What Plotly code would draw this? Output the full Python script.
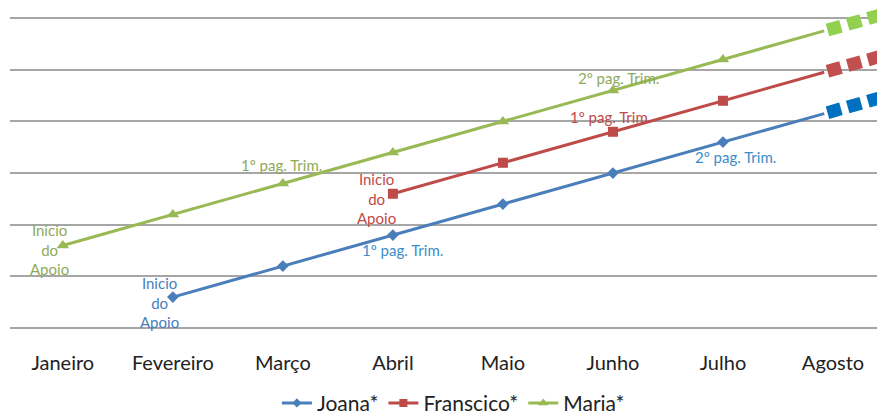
import plotly.graph_objects as go

months = ["Janeiro", "Fevereiro", "Março", "Abril", "Maio", "Junho", "Julho", "Agosto"]
joana = [None, 0.6, 1.2, 1.8, 2.4, 3.0, 3.6, 4.2]
francisco = [None, None, None, 2.6, 3.2, 3.8, 4.4, 5.0]
maria = [1.6, 2.2, 2.8, 3.4, 4.0, 4.6, 5.2, 5.8]
# projected continuation after Agosto (dashed)
proj_x = [7, 7.6]
joana_proj = [4.2, 4.56]
francisco_proj = [5.0, 5.36]
maria_proj = [5.8, 6.16]

c_j, c_f, c_m = "#4A7EBB", "#BE4B48", "#98B954"
cp_j, cp_f, cp_m = "#0070C0", "#C0504D", "#92D050"

xs = list(range(len(months)))
fig = go.Figure()
for name, ys, col, sym, sz in [("Joana*", joana, c_j, "diamond", 9),
                               ("Franscico*", francisco, c_f, "square", 10),
                               ("Maria*", maria, c_m, "triangle-up", 11)]:
    px = [x for x, y in zip(xs, ys) if y is not None and x < 7]
    py = [y for x, y in zip(xs, ys) if y is not None and x < 7]
    fig.add_trace(go.Scatter(x=px + [6.92], y=py + [py[-1] + (ys[7] - py[-1]) * 0.92],
                             mode="lines", line=dict(color=col, width=3), showlegend=False,
                             hoverinfo="skip"))
    fig.add_trace(go.Scatter(x=px, y=py, mode="markers", name=name,
                             marker=dict(symbol=sym, size=sz, color=col),
                             line=dict(color=col, width=3), showlegend=False))
    fig.add_trace(go.Scatter(x=[None], y=[None], mode="lines+markers", name=name,
                             marker=dict(symbol=sym, size=sz - 2, color=col),
                             line=dict(color=col, width=3)))

for ys, col in [(joana_proj, cp_j), (francisco_proj, cp_f), (maria_proj, cp_m)]:
    fig.add_trace(go.Scatter(x=[proj_x[0] - 0.05, proj_x[1]],
                             y=[ys[0] - 0.05 * 0.6, ys[1]], mode="lines",
                             line=dict(color=col, width=13, dash="14px,7px"),
                             showlegend=False, hoverinfo="skip"))

ann = [
    ("Inicio<br>do<br>Apoio", -0.12, 1.53, "#8FAA5A"),
    ("Inicio<br>do<br>Apoio", 0.88, 0.5, "#4A7EBB"),
    ("Inicio<br>do<br>Apoio", 2.85, 2.5, "#BE4B48"),
    ("1º pag. Trim.", 3.09, 1.51, "#3C8DC8"),
    ("1º pag. Trim.", 1.99, 3.15, "#8FAA5A"),
    ("1º pag. Trim.", 4.98, 4.08, "#BE4B48"),
    ("2º pag. Trim.", 5.05, 4.84, "#8FAA5A"),
    ("2º pag. Trim.", 6.11, 3.31, "#3C8DC8"),
]
for t, x, y, col in ann:
    fig.add_annotation(x=x, y=y, text=t, showarrow=False,
                       font=dict(family="Lato", size=15, color=col))

fig.update_layout(
    width=877, height=417,
    margin=dict(l=10, r=0, t=0, b=77, autoexpand=False),
    plot_bgcolor="white", paper_bgcolor="white",
    font=dict(family="Lato", color="#222"),
    xaxis=dict(range=[-0.48, 7.4], tickvals=xs, ticktext=months, showgrid=False,
               zeroline=False, showline=False, ticks="", ticklabelstandoff=9,
               tickfont=dict(size=20, color="#222")),
    yaxis=dict(range=[-0.23, 6.35], dtick=1, tick0=0, showgrid=True, gridcolor="#A6A6A6",
               gridwidth=2, showticklabels=False, zeroline=False, ticks=""),
    legend=dict(orientation="h", xref="container", x=0.517, xanchor="center",
                yref="paper", y=-0.186, yanchor="middle",
                font=dict(size=21, color="#222"), itemwidth=30, tracegroupgap=0),
    showlegend=True,
)
fig.write_html("out.html")
